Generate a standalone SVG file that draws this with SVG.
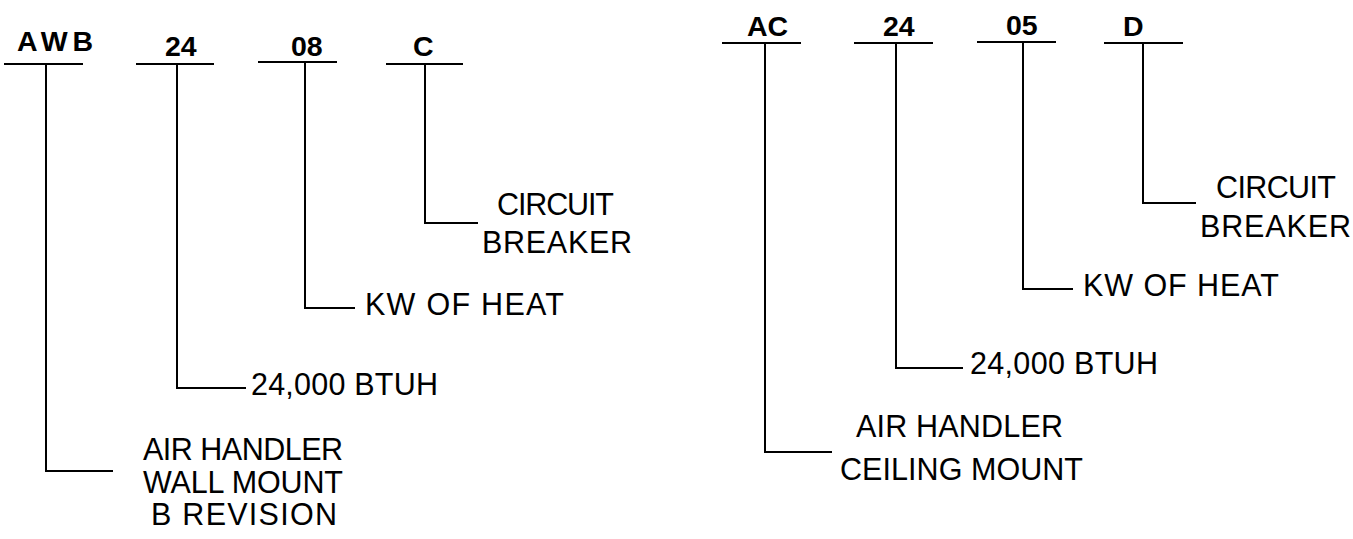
<svg xmlns="http://www.w3.org/2000/svg" width="1353" height="539" viewBox="0 0 1353 539">
<style>
.hd{font-family:"Liberation Sans",Arial,sans-serif;font-weight:bold;font-size:28.5px;fill:#000}
.lb{font-family:"Liberation Sans",Arial,sans-serif;font-size:30.5px;fill:#000}
.ln{stroke:#000;stroke-width:2;fill:none}
</style>
<rect width="1353" height="539" fill="#fff"/>
<g id="connectors">
<path class="ln" d="M4,64H83 M46,64V471H113"/>
<path class="ln" d="M136,64H214 M177,64V388H246"/>
<path class="ln" d="M258,62H337 M305,62V308H355"/>
<path class="ln" d="M386,64H463 M425,64V223H478"/>
<path class="ln" d="M722,43H801 M765,43V452H832"/>
<path class="ln" d="M854,43H933 M896,43V368H963"/>
<path class="ln" d="M977,42H1056 M1023,42V289H1073"/>
<path class="ln" d="M1104,43H1183 M1143,43V203H1196"/>
</g>
<g id="awb"><text class="hd" x="17" y="51" textLength="76" lengthAdjust="spacing">AWB</text></g>
<g id="l24"><text class="hd" x="165" y="56">24</text></g>
<g id="l08"><text class="hd" x="291" y="56">08</text></g>
<g id="lc"><text class="hd" x="413" y="56">C</text></g>
<g id="ac"><text class="hd" x="747" y="36">AC</text></g>
<g id="r24"><text class="hd" x="883" y="36">24</text></g>
<g id="r05"><text class="hd" x="1006" y="35">05</text></g>
<g id="rd"><text class="hd" x="1123" y="36">D</text></g>
<g id="l-cb"><text class="lb" x="497" y="215" textLength="117" lengthAdjust="spacing">CIRCUIT</text><text class="lb" x="482" y="253" textLength="150" lengthAdjust="spacing">BREAKER</text></g>
<g id="l-kw"><text class="lb" x="365" y="315" textLength="199" lengthAdjust="spacing">KW OF HEAT</text></g>
<g id="l-btuh"><text class="lb" x="251" y="395" textLength="187" lengthAdjust="spacing">24,000 BTUH</text></g>
<g id="l-ah"><text class="lb" x="143" y="460" textLength="200" lengthAdjust="spacing">AIR HANDLER</text><text class="lb" x="143" y="493" textLength="200" lengthAdjust="spacing">WALL MOUNT</text><text class="lb" x="151" y="525" textLength="186" lengthAdjust="spacing">B REVISION</text></g>
<g id="r-cb"><text class="lb" x="1216" y="198" textLength="120" lengthAdjust="spacing">CIRCUIT</text><text class="lb" x="1200" y="237" textLength="151" lengthAdjust="spacing">BREAKER</text></g>
<g id="r-kw"><text class="lb" x="1083" y="296" textLength="196" lengthAdjust="spacing">KW OF HEAT</text></g>
<g id="r-btuh"><text class="lb" x="970" y="374" textLength="188" lengthAdjust="spacing">24,000 BTUH</text></g>
<g id="r-ah"><text class="lb" x="856" y="437" textLength="207" lengthAdjust="spacing">AIR HANDLER</text><text class="lb" x="840" y="480" textLength="243" lengthAdjust="spacing">CEILING MOUNT</text></g>
</svg>
